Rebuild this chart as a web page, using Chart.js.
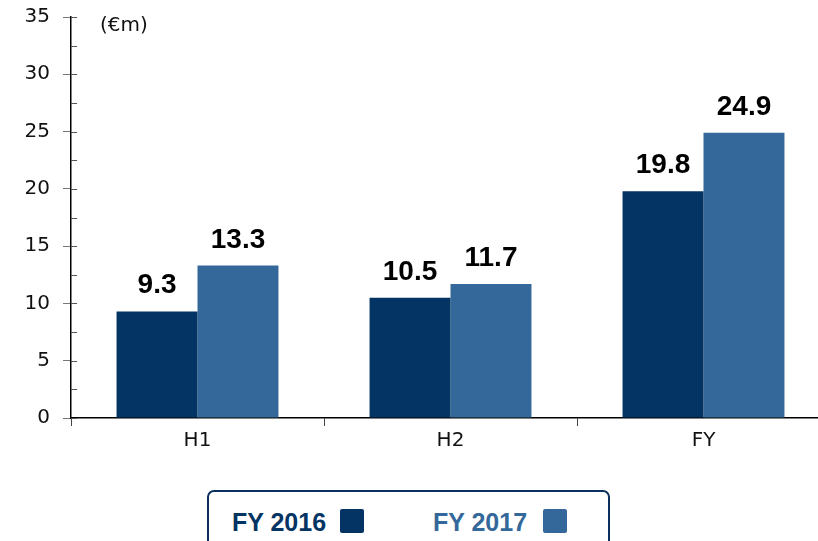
<!DOCTYPE html>
<html>
<head>
<meta charset="utf-8">
<script src="https://cdn.jsdelivr.net/npm/chart.js@4"></script>
<style>
  html, body { margin: 0; padding: 0; background: #fff; overflow: hidden; width: 818px; height: 541px; }
  #wrap { position: absolute; left: 0; top: -8px; width: 830px; height: 470px; }
  #unit { position: absolute; left: 100px; top: 12px; font: 20px "DejaVu Sans", sans-serif; color: #111; }
  #legend { position: absolute; left: 207px; top: 490px; width: 399px; height: 70px; border: 2px solid #0b2f5e; border-radius: 7px; }
  .li { position: absolute; top: 16px; font: bold 25px "Liberation Sans", Arial, sans-serif; }
  .sw { position: absolute; top: 17px; width: 24px; height: 24px; border-radius: 2px; }
</style>
</head>
<body>
<div id="wrap"><canvas id="c"></canvas></div>
<div id="unit">(€m)</div>
<div id="legend"></div>
<script>
const categories = ["H1", "H2", "FY"];
const seriesNames = ["FY 2016", "FY 2017"];
const fy2016 = [9.3, 10.5, 19.8];
const fy2017 = [13.3, 11.7, 24.9];
const yTicks = [0, 5, 10, 15, 20, 25, 30, 35];
const colors = ["#033463", "#35689a"];

// HTML legend
const leg = document.getElementById('legend');
const legPos = [[23, 131], [224, 334]];
seriesNames.forEach((n, i) => {
  const t = document.createElement('div');
  t.className = 'li'; t.textContent = n; t.style.left = legPos[i][0] + 'px'; t.style.color = colors[i];
  leg.appendChild(t);
  const s = document.createElement('div');
  s.className = 'sw'; s.style.left = legPos[i][1] + 'px'; s.style.background = colors[i];
  leg.appendChild(s);
});

const valueLabels = {
  id: 'valueLabels',
  afterDatasetsDraw(chart) {
    const ctx = chart.ctx;
    ctx.save();
    ctx.font = 'bold 28px "Liberation Sans", Arial, sans-serif';
    ctx.fillStyle = '#000';
    ctx.textAlign = 'center';
    ctx.textBaseline = 'alphabetic';
    chart.data.datasets.forEach((ds, di) => {
      chart.getDatasetMeta(di).data.forEach((bar, i) => {
        ctx.fillText(ds.data[i].toFixed(1), bar.x, bar.y - 18);
      });
    });
    ctx.restore();
  }
};

const innerTicks = {
  id: 'innerTicks',
  afterDraw(chart) {
    const y = chart.scales.y, ctx = chart.ctx;
    const x0 = chart.chartArea.left;
    ctx.save();
    ctx.strokeStyle = '#555';
    ctx.lineWidth = 1;
    for (let v = 0; v <= 35; v += 2.5) {
      const py = Math.round(y.getPixelForValue(v)) + 0.5;
      ctx.beginPath(); ctx.moveTo(x0, py); ctx.lineTo(x0 + 6, py); ctx.stroke();
    }
    ctx.restore();
  }
};

new Chart(document.getElementById('c'), {
  type: 'bar',
  data: {
    labels: categories,
    datasets: [
      { label: seriesNames[0], data: fy2016, backgroundColor: colors[0] },
      { label: seriesNames[1], data: fy2017, backgroundColor: colors[1] }
    ]
  },
  options: {
    responsive: true,
    maintainAspectRatio: false,
    animation: false,
    layout: { padding: { top: 8, right: 0, left: 0, bottom: 0 } },
    datasets: { bar: { categoryPercentage: 0.64, barPercentage: 1.0 } },
    plugins: { legend: { display: false }, tooltip: { enabled: false } },
    scales: {
      x: {
        grid: { offset: true, drawOnChartArea: false, tickLength: 8, color: '#444', tickWidth: 1 },
        border: { color: '#000', width: 1.5 },
        ticks: { color: '#111', font: { family: 'DejaVu Sans', size: 20 }, padding: 3 },
        afterFit(s) { s.height = 44; }
      },
      y: {
        min: 0, max: 35,
        afterBuildTicks(s) { s.ticks = yTicks.map(v => ({ value: v })); },
        grid: { drawOnChartArea: false, tickLength: 8, color: '#777' },
        border: { color: '#000', width: 1.5 },
        ticks: { color: '#111', font: { family: 'DejaVu Sans', size: 20 }, padding: 13 },
        afterFit(s) { s.width = 71; }
      }
    }
  },
  plugins: [valueLabels, innerTicks]
});
</script>
</body>
</html>
